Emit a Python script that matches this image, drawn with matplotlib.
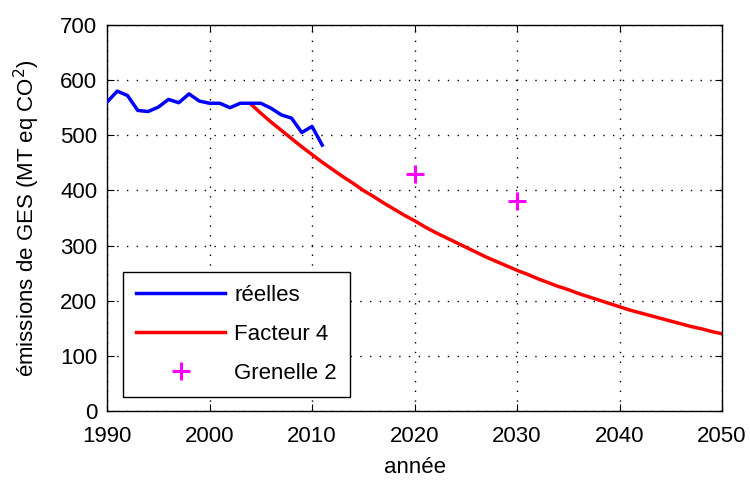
import matplotlib
matplotlib.use("Agg")
import matplotlib.pyplot as plt

plt.rcParams['font.family'] = ['Liberation Sans', 'DejaVu Sans']

# ─── Data ─────────────────────────────────────────────────────────────────────
REELLES_YEARS = list(range(1990, 2012))
REELLES_VALUES = [560, 580, 572, 545, 543, 551, 565, 559, 575, 562, 558,
                  558, 550, 558, 558, 558, 549, 537, 531, 505, 516, 482]

FACTEUR4_YEARS = list(range(2004, 2051))
FACTEUR4_VALUES = [557, 540, 524, 509, 494, 479, 465, 451, 438, 425,
                   413, 400, 389, 377, 366, 355, 345, 334, 324, 315,
                   306, 297, 288, 279, 271, 263, 255, 248, 240, 233,
                   226, 220, 213, 207, 201, 195, 189, 183, 178, 173,
                   168, 163, 158, 153, 149, 144, 140]

GRENELLE_YEARS = [2020, 2030]
GRENELLE_VALUES = [430, 380]

FS = 16

fig = plt.figure(figsize=(7.5, 4.8), dpi=100)
ax = fig.add_axes([0.1427, 0.1438, 0.82, 0.8042])

ax.plot(REELLES_YEARS, REELLES_VALUES, color="#0000ff", lw=2.5, label="réelles", zorder=3)
ax.plot(FACTEUR4_YEARS, FACTEUR4_VALUES, color="#ff0000", lw=2.5, label="Facteur 4", zorder=2)
ax.plot(GRENELLE_YEARS, GRENELLE_VALUES, ls="none", marker="+", color="#ff00ff",
        ms=13, mew=2.2, label="Grenelle 2", zorder=4)

ax.set_xlim(1990, 2050)
ax.set_ylim(0, 700)
ax.set_xticks(range(1990, 2051, 10))
ax.set_yticks(range(0, 701, 100))
ax.tick_params(direction="in", length=5, labelsize=FS, colors="black", top=True, right=True,
               labeltop=False, labelright=False)
ax.tick_params(axis="x", pad=11)
ax.tick_params(axis="y", pad=7)
ax.grid(True, ls=(0, (1, 6)), color="black", lw=1.0)

for s in ax.spines.values():
    s.set_linewidth(1.0)

ax.set_xlabel("année", fontsize=FS, labelpad=7)
ax.set_ylabel("émissions de GES (MT eq CO$^2$)", fontsize=FS, labelpad=13)

leg = ax.legend(loc="lower left", bbox_to_anchor=(0.026, 0.036), fontsize=FS,
                fancybox=False, framealpha=1, edgecolor="black", handlelength=4.0,
                handletextpad=0.4, borderpad=0.6, labelspacing=0.8, borderaxespad=0)
leg.get_frame().set_linewidth(1.0)

fig.savefig("out.png", dpi=100, facecolor="white")
